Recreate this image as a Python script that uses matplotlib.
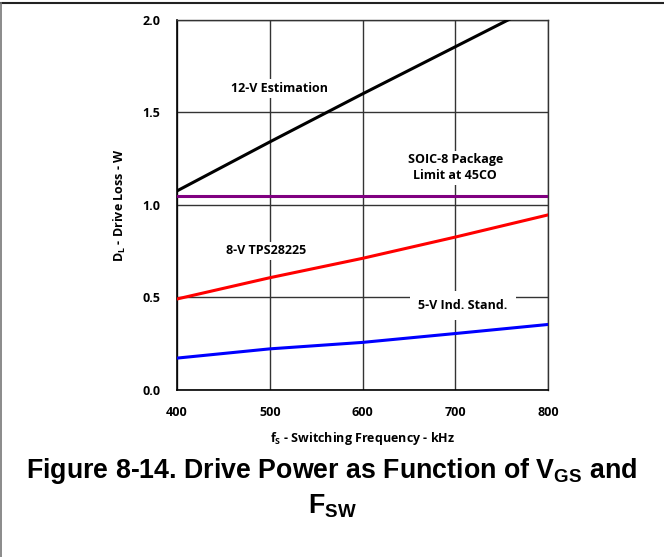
import matplotlib.pyplot as plt
from matplotlib.lines import Line2D

plt.rcParams['mathtext.fontset'] = 'custom'
plt.rcParams['mathtext.rm'] = 'Liberation Sans:bold'
plt.rcParams['mathtext.sf'] = 'Open Sans:bold'

# switching frequency (kHz) and drive loss (W)
freq_khz = [400, 500, 600, 700, 800]
loss_12v = [1.075, 1.34, 1.60, 1.855, 2.11]
loss_8v = [0.49, 0.605, 0.71, 0.825, 0.945]
loss_5v = [0.17, 0.22, 0.255, 0.303, 0.352]
soic8_limit = [1.05, 1.05, 1.05, 1.05, 1.05]

x_ticks = [400, 500, 600, 700, 800]
y_ticks = [0.0, 0.5, 1.0, 1.5, 2.0]

FONT = 'Open Sans'
SIZE = 9.0

fig = plt.figure(figsize=(6.64, 5.57), dpi=100)
ax = fig.add_axes([0.2666, 0.3007, 0.5587, 0.6634])

ax.plot(freq_khz, soic8_limit, color='#800080', lw=2.2, zorder=3)
ax.plot(freq_khz, loss_12v, color='black', lw=2.2, zorder=3)
ax.plot(freq_khz, loss_8v, color='#ff0000', lw=2.2, zorder=3)
ax.plot(freq_khz, loss_5v, color='#0000ff', lw=2.2, zorder=3)

ax.set_xlim(400, 800)
ax.set_ylim(0, 2.0)
ax.set_xticks(x_ticks)
ax.set_yticks(y_ticks)
ax.set_xticklabels([str(v) for v in x_ticks])
ax.set_yticklabels([f'{v:.1f}' for v in y_ticks])
ax.tick_params(length=0, pad=12, labelsize=SIZE)
for lab in ax.get_xticklabels() + ax.get_yticklabels():
    lab.set_fontfamily(FONT)
    lab.set_fontweight('bold')

ax.grid(True, color='#333333', lw=1.0, zorder=1)
for side in ['left', 'bottom']:
    ax.spines[side].set_color('black')
    ax.spines[side].set_linewidth(1.2)
for side in ['top', 'right']:
    ax.spines[side].set_color('#333333')
    ax.spines[side].set_linewidth(1.0)

ax.set_xlabel(r'f$_{\mathsf{S}}$ - Switching Frequency - kHz', family=FONT,
              weight='bold', fontsize=SIZE, labelpad=8)
ax.set_ylabel(r'D$_{\mathsf{L}}$ - Drive Loss - W', family=FONT,
              weight='bold', fontsize=SIZE, labelpad=10)

box = dict(facecolor='white', edgecolor='none', pad=2)
lbl = dict(family=FONT, weight='bold', fontsize=SIZE, ha='center', va='center', zorder=4)
ax.text(511, 1.63, '12-V Estimation', bbox=box, **lbl)
ax.text(700, 1.20, 'SOIC-8 Package\nLimit at 45CO', linespacing=1.3, bbox=box, **lbl)
ax.text(496, 0.75, '8-V TPS28225', bbox=box, **lbl)
ax.text(708, 0.455, '5-V Ind. Stand.', bbox=dict(facecolor='white', edgecolor='none', pad=6), **lbl)

fig.text(0.5, 0.155, r'Figure 8-14. Drive Power as Function of V$_{\mathrm{GS}}$ and',
         family='Liberation Sans', weight='bold', fontsize=19.3, ha='center', va='center')
fig.text(0.5, 0.092, r'F$_{\mathrm{SW}}$',
         family='Liberation Sans', weight='bold', fontsize=19.3, ha='center', va='center')

# page border (top and left edges)
fig.add_artist(Line2D([0, 1], [0.994, 0.994], transform=fig.transFigure, color='#222222', lw=1.5))
fig.add_artist(Line2D([0.001, 0.001], [0, 0.994], transform=fig.transFigure, color='#777777', lw=1.2))

fig.savefig('out.png', dpi=100)
